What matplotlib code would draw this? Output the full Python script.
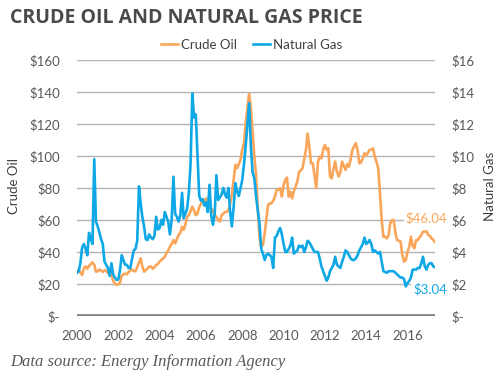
import numpy as np
import pandas as pd
import matplotlib
matplotlib.use("Agg")
import matplotlib.pyplot as plt
import matplotlib.dates as mdates
from matplotlib.lines import Line2D

# monthly values, Jan 2000 .. May 2017
months = pd.date_range("2000-01-01", periods=209, freq="MS")

crude_oil = [
    28.5, 29.0, 27.0, 25.7, 29.8, 31.0, 29.5, 31.3, 32.5, 33.5, 32.0, 27.7,
    28.0, 29.0, 28.5, 27.5, 28.5, 28.5, 26.8, 27.0, 26.0, 22.0, 20.0, 19.5,
    19.8, 21.0, 25.0, 26.0, 26.5, 26.0, 27.5, 28.5, 29.0, 28.0, 28.0, 30.5,
    33.5, 36.0, 31.0, 27.7, 28.5, 29.8, 30.8, 31.0, 29.5, 30.5, 31.9, 32.5,
    34.0, 35.0, 36.0, 37.0, 39.2, 41.0, 43.3, 45.0, 47.5, 45.4, 48.0, 50.6,
    52.0, 55.8, 53.8, 57.0, 62.0, 63.1, 65.5, 68.3, 66.0, 63.0, 64.0, 68.0,
    70.0, 72.5, 71.0, 73.5, 72.0, 68.0, 67.0, 66.0, 63.0, 62.0, 60.0, 59.0,
    63.0, 64.0, 65.0, 65.0, 66.0, 70.0, 75.6, 85.0, 94.4, 92.3, 95.0, 97.5,
    103.8, 108.0, 120.4, 130.0, 139.0, 130.0, 115.0, 100.0, 88.0, 68.0, 49.0, 43.0,
    44.5, 51.7, 60.0, 69.4, 70.4, 70.4, 72.0, 74.6, 78.8, 79.0, 79.8, 74.6,
    82.0, 85.0, 86.5, 74.6, 77.7, 73.5, 78.0, 81.0, 84.0, 90.0, 91.0, 92.3,
    98.0, 104.0, 114.0, 106.0, 95.4, 95.4, 88.0, 80.0, 96.5, 99.6, 98.5, 104.0,
    106.9, 103.8, 104.8, 87.1, 86.0, 92.0, 96.5, 90.2, 87.1, 90.0, 96.5, 94.0,
    91.3, 95.0, 93.3, 98.0, 103.8, 106.0, 108.0, 103.8, 95.4, 96.0, 98.5, 101.7,
    100.6, 102.0, 103.8, 104.0, 104.8, 99.6, 96.5, 92.3, 76.7, 60.0, 49.6, 49.5,
    48.5, 50.6, 58.0, 60.0, 60.0, 52.0, 47.5, 47.0, 46.5, 38.1, 34.0, 35.0,
    40.0, 43.3, 49.6, 44.0, 42.3, 47.5, 47.5, 49.0, 50.6, 52.7, 52.7, 53.0,
    50.6, 50.0, 48.5, 47.5, 46.04,
]

natural_gas = [
    2.7, 2.8, 3.3, 4.3, 4.5, 4.2, 3.8, 5.2, 4.8, 4.5, 9.8, 5.9,
    5.6, 5.2, 4.8, 4.5, 3.4, 3.2, 3.0, 2.5, 3.3, 2.6, 2.4, 2.25,
    2.3, 2.9, 3.8, 3.5, 3.2, 3.2, 3.0, 3.0, 3.6, 4.1, 4.2, 4.7,
    8.1, 7.0, 6.2, 5.6, 4.8, 4.75, 5.1, 4.9, 4.8, 5.0, 6.2, 5.4,
    5.5, 6.0, 5.7, 6.5, 6.2, 5.9, 5.1, 6.0, 8.7, 6.4, 6.2, 5.9,
    6.3, 7.7, 6.1, 6.4, 6.7, 7.7, 9.5, 13.9, 12.4, 12.6, 10.0, 7.5,
    7.2, 7.3, 6.9, 7.1, 6.5, 8.2, 6.3, 5.7, 6.4, 8.8, 7.25, 7.4,
    7.6, 8.0, 7.6, 7.4, 8.0, 6.5, 5.6, 6.8, 8.3, 7.8, 7.5, 8.0,
    8.5, 9.5, 10.6, 12.0, 13.3, 10.6, 9.0, 8.6, 7.5, 6.6, 5.8, 4.2,
    3.9, 3.5, 3.8, 3.9, 3.8, 3.7, 3.0, 4.9, 5.0, 5.3, 5.5, 5.1,
    4.5, 4.0, 4.0, 4.2, 4.4, 4.9, 3.9, 4.0, 4.1, 4.4, 4.3, 4.4,
    4.0, 4.3, 4.7, 4.6, 4.4, 4.2, 4.0, 4.0, 4.0, 3.6, 3.1, 2.8,
    2.5, 2.2, 2.4, 2.8, 3.0, 3.2, 3.7, 3.2, 3.1, 3.0, 3.4, 3.7,
    4.1, 4.0, 3.8, 3.6, 3.5, 3.5, 3.6, 3.8, 4.1, 4.3, 4.5, 4.9,
    4.5, 4.6, 4.75, 4.5, 4.0, 4.1, 4.0, 3.9, 4.0, 3.4, 2.8, 2.75,
    2.7, 2.8, 2.8, 2.8, 2.8, 2.7, 2.6, 2.5, 2.4, 2.4, 2.3, 1.85,
    2.05, 2.2, 2.4, 2.9, 2.9, 2.9, 3.0, 3.0, 3.3, 3.7, 3.1, 2.9,
    3.2, 3.3, 3.3, 3.1, 3.04,
]

oil_ticks = [0, 20, 40, 60, 80, 100, 120, 140, 160]
gas_ticks = [0, 2, 4, 6, 8, 10, 12, 14, 16]
year_ticks = list(range(2000, 2017, 2))

ORANGE = "#F9A65A"
BLUE = "#0FA8E6"
TEXT = "#595959"
FONT = "Lato"

plt.rcParams["font.family"] = [FONT, "DejaVu Sans"]

fig = plt.figure(figsize=(5, 3.81), dpi=100)
ax = fig.add_axes([0.154, 0.1706, 0.716, 0.672])
ax2 = ax.twinx()

ax.plot(months, crude_oil, color=ORANGE, lw=1.9, solid_joinstyle="round")
ax2.plot(months, natural_gas, color=BLUE, lw=1.9, solid_joinstyle="round")

ax.set_ylim(0, 160)
ax2.set_ylim(0, 16)
ax.set_xlim(months[0], months[-1])

ax.set_yticks(oil_ticks)
ax.set_yticklabels(["$-" if v == 0 else f"${v}" for v in oil_ticks])
ax2.set_yticks(gas_ticks)
ax2.set_yticklabels(["$-" if v == 0 else f"${v}" for v in gas_ticks])
ax.set_xticks([pd.Timestamp(f"{y}-01-01") for y in year_ticks])
ax.xaxis.set_major_formatter(mdates.DateFormatter("%Y"))

for a in (ax, ax2):
    for s in a.spines.values():
        s.set_visible(False)
    a.tick_params(length=0, labelsize=9.5, colors=TEXT)
ax.tick_params(axis="y", pad=12)
ax2.tick_params(axis="y", pad=12)
ax.tick_params(axis="x", pad=10)

for v in oil_ticks[1:]:
    ax.axhline(v, color="#b3b3b3", lw=1, zorder=0)
ax.axhline(0, color="#808080", lw=2.6, zorder=1)

ax.set_zorder(ax2.get_zorder() - 1)
ax2.patch.set_visible(False)

# end labels
ax.annotate(f"${crude_oil[-1]:.2f}", xy=(months[-1], crude_oil[-1]),
            xytext=(-6, 17.5), textcoords="offset points", ha="center", va="center",
            color=ORANGE, fontsize=9.5,
            bbox=dict(boxstyle="square,pad=0.15", fc="white", ec="none"))
ax2.annotate(f"${natural_gas[-1]:.2f}", xy=(months[-1], natural_gas[-1]),
             xytext=(-3.6, -15.5), textcoords="offset points", ha="center", va="center",
             color=BLUE, fontsize=9.5,
             bbox=dict(boxstyle="square,pad=0.15", fc="white", ec="none"))

handles = [Line2D([], [], color=ORANGE, lw=1.9), Line2D([], [], color=BLUE, lw=1.9)]
fig.legend(handles, ["Crude Oil", "Natural Gas"], loc="center", bbox_to_anchor=(0.503, 0.882),
           ncol=2, frameon=False, fontsize=9.5, handlelength=1.3, handletextpad=0.25,
           columnspacing=1.2, labelcolor="#404040")

fig.text(0.028, 0.512, "Crude Oil", rotation=90, ha="center", va="center",
         color="#404040", fontsize=9.5)
fig.text(0.98, 0.512, "Natural Gas", rotation=90, ha="center", va="center",
         color="#404040", fontsize=9.5)

fig.text(0.02, 0.953, "CRUDE OIL AND NATURAL GAS PRICE", ha="left", va="center",
         fontsize=14, fontweight="bold", family="Open Sans", color="#4a4a4a")
fig.text(0.02, 0.05, "Data source: Energy Information Agency", ha="left", va="center",
         fontsize=12, style="italic", family="Liberation Serif", color=TEXT)

fig.savefig("out.png", dpi=100)
